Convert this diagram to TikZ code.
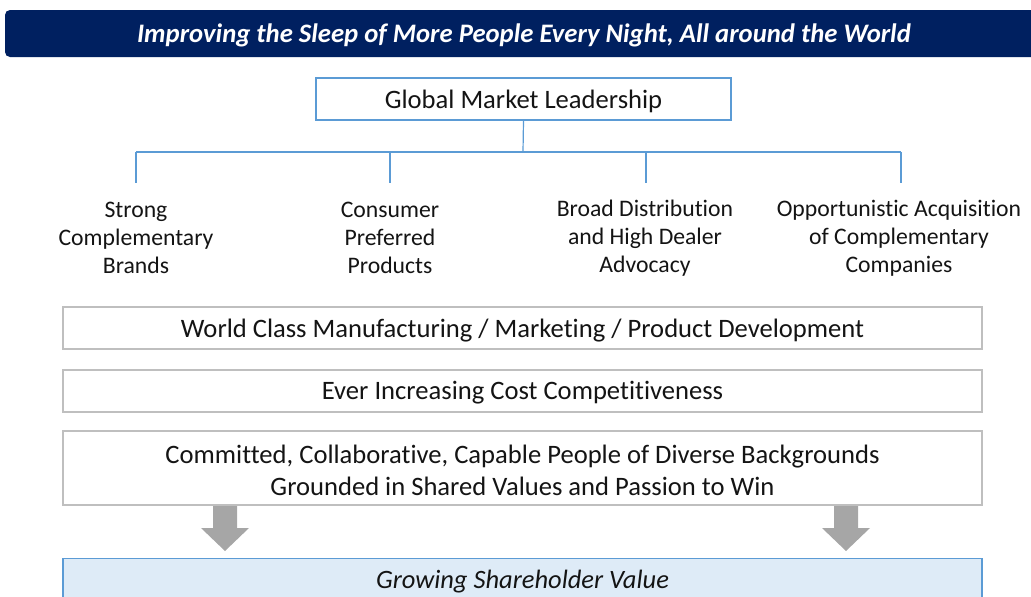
\documentclass[tikz,border=0pt]{standalone}
\usepackage{fontspec}
\setmainfont{Carlito}[Ligatures=NoCommon]
\definecolor{navy}{RGB}{0,32,96}
\definecolor{lineblue}{RGB}{91,155,213}
\definecolor{boxgray}{RGB}{191,191,191}
\definecolor{arrowgray}{RGB}{166,166,166}
\definecolor{paleblue}{RGB}{222,235,247}
\definecolor{txt}{RGB}{20,20,20}
\begin{document}
\begin{tikzpicture}[x=1pt,y=-1pt,
  graybox/.style={draw=boxgray,line width=1.2pt,fill=white,minimum width=919pt,minimum height=42pt},
  boxtext/.style={font=\fontsize{26.6}{32}\selectfont,text=txt,align=center},
  label/.style={align=center,font=\fontsize{23.7}{28}\selectfont,text=txt},
  conn/.style={draw=lineblue,line width=1.2pt},
  blockarrow/.style={fill=arrowgray}]
\useasboundingbox (0,0) rectangle (1031,597);
% banner
\fill[navy,rounded corners=5pt] (5,10) rectangle (1045,57);
\node[text=white,font=\fontsize{26.7}{30}\selectfont\bfseries\itshape] (banner) at (524,35) {Improving the Sleep of More People Every Night, All around the World};
% top box
\node[draw=lineblue,line width=1.2pt,minimum width=415pt,minimum height=42pt] (glob) at (523.5,99) {};
\node[boxtext] (globt) at (523.5,101) {Global Market Leadership};
\coordinate (j) at (523,152);
\coordinate (t1) at (136,152);
\coordinate (t4) at (901,152);
\coordinate (b1) at (136,183);
\coordinate (b2) at (390,183);
\coordinate (b3) at (646,183);
\coordinate (b4) at (901,183);
\draw[conn] (glob.south) -- (j);
\draw[conn] (t1) -- (t4);
\draw[conn] (t1) -- (b1);
\draw[conn] (b2 |- j) -- (b2);
\draw[conn] (b3 |- j) -- (b3);
\draw[conn] (t4) -- (b4);
% labels
\node[label] (l1) at (136,238) {Strong\\Complementary\\Brands};
\node[label] (l2) at (390,238) {Consumer\\Preferred\\Products};
\node[label] (l3) at (645,238) {Broad Distribution\\and High Dealer\\Advocacy};
\node[label] (l4) at (899,238) {Opportunistic Acquisition\\of Complementary\\Companies};
% stacked boxes
\node[graybox] (wc) at (522.5,328) {};
\node[boxtext] (wct) at (522.5,330.5) {World Class Manufacturing / Marketing / Product Development};
\node[graybox] (ev) at (522.5,391) {};
\node[boxtext] (evt) at (522.5,393) {Ever Increasing Cost Competitiveness};
\node[graybox,minimum height=74pt] (cm) at (522.5,468) {};
\node[boxtext] (cmt) at (522.5,470) {Committed, Collaborative, Capable People of Diverse Backgrounds\\Grounded in Shared Values and Passion to Win};
% bottom box
\node[draw=lineblue,line width=1.2pt,fill=paleblue,minimum width=919pt,minimum height=50pt,anchor=north] (gs) at (522.5,558) {};
\node[font=\fontsize{26.5}{30}\selectfont\itshape,text=txt] (gst) at (522.5,582) {Growing Shareholder Value};
% arrows
\fill[blockarrow] (213,506) -- (237,506) -- (237,528) -- (249,528) -- (225,551) -- (201,528) -- (213,528) -- cycle;
\fill[blockarrow] (834,506) -- (858,506) -- (858,528) -- (870,528) -- (846,551) -- (822,528) -- (834,528) -- cycle;
\end{tikzpicture}
\end{document}
